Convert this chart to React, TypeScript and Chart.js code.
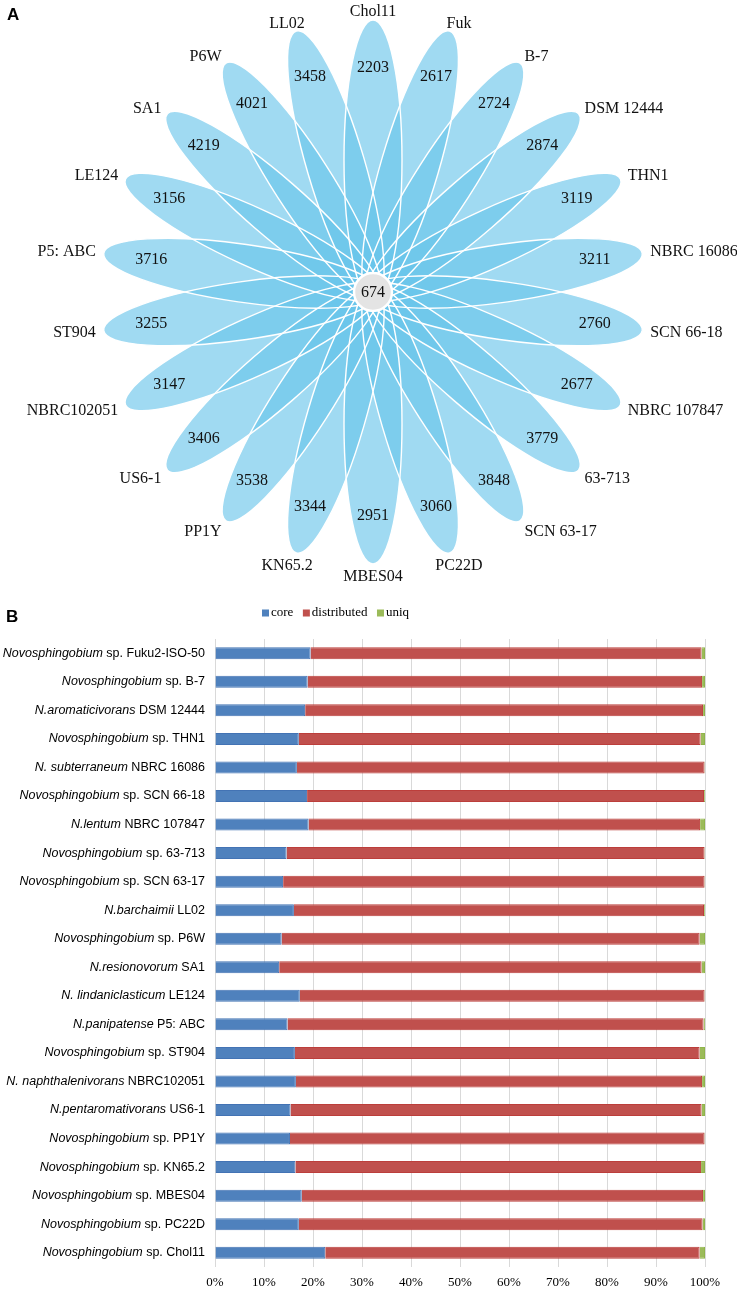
import React, { useEffect, useRef } from "react";
import { Chart, registerables } from "chart.js";

Chart.register(...registerables);

// ---------- Panel A data (flower diagram) ----------
const petalLabels = [
  "Chol11", "Fuk", "B-7", "DSM 12444", "THN1", "NBRC 16086", "SCN 66-18",
  "NBRC 107847", "63-713", "SCN 63-17", "PC22D", "MBES04", "KN65.2", "PP1Y",
  "US6-1", "NBRC102051", "ST904", "P5: ABC", "LE124", "SA1", "P6W", "LL02",
];
const petalValues = [
  2203, 2617, 2724, 2874, 3119, 3211, 2760, 2677, 3779, 3848, 3060, 2951,
  3344, 3538, 3406, 3147, 3255, 3716, 3156, 4219, 4021, 3458,
];
const coreValue = 674;

// ---------- Panel B data (stacked 100% bars) ----------
const speciesNames = [
  "Novosphingobium", "Novosphingobium", "N.aromaticivorans", "Novosphingobium",
  "N. subterraneum", "Novosphingobium", "N.lentum", "Novosphingobium",
  "Novosphingobium", "N.barchaimii", "Novosphingobium", "N.resionovorum",
  "N. lindaniclasticum", "N.panipatense", "Novosphingobium", "N. naphthalenivorans",
  "N.pentaromativorans", "Novosphingobium", "Novosphingobium", "Novosphingobium",
  "Novosphingobium", "Novosphingobium",
];
const strainNames = [
  " sp. Fuku2-ISO-50", " sp. B-7", " DSM 12444", " sp. THN1", " NBRC 16086",
  " sp. SCN 66-18", " NBRC 107847", " sp. 63-713", " sp. SCN 63-17", " LL02",
  " sp. P6W", " SA1", " LE124", " P5: ABC", " sp. ST904", " NBRC102051",
  " US6-1", " sp. PP1Y", " sp. KN65.2", " sp. MBES04", " sp. PC22D", " sp. Chol11",
];
const seriesNames = ["core", "distributed", "uniq"];
const coreShare = [
  19.5, 18.9, 18.4, 17.1, 16.7, 18.8, 19.1, 14.6, 13.9, 16.1, 13.6, 13.1,
  17.3, 14.8, 16.3, 16.5, 15.4, 15.3, 16.4, 17.7, 17.1, 22.5,
];
const distributedShare = [
  79.8, 80.5, 81.2, 82.0, 83.2, 81.0, 79.9, 85.3, 86.0, 83.7, 85.3, 86.2,
  82.6, 84.9, 82.6, 82.9, 83.9, 84.6, 82.8, 81.9, 82.4, 76.4,
];
const uniqShare = [
  0.7, 0.6, 0.4, 0.9, 0.1, 0.2, 1.0, 0.1, 0.1, 0.2, 1.1, 0.7,
  0.1, 0.3, 1.1, 0.6, 0.7, 0.1, 0.8, 0.4, 0.5, 1.1,
];
const xTickLabels = ["0%", "10%", "20%", "30%", "40%", "50%", "60%", "70%", "80%", "90%", "100%"];

const SERIF = '"Liberation Serif", "Times New Roman", serif';
const SANS = '"Liberation Sans", Arial, sans-serif';

const flowerPlugin = {
  id: "flowerPetals",
  afterDraw(chart: any) {
    const sc = chart.scales.r;
    const R = sc.drawingArea;
    const k = R / 272;
    const ctx = chart.ctx as CanvasRenderingContext2D;
    const n = chart.data.labels.length;
    const vals = chart.data.datasets[0].data;
    ctx.save();
    const centers: any[] = [];
    for (let i = 0; i < n; i++) centers.push(sc.getPointPosition(i, 132 * k));
    ctx.fillStyle = "rgba(105,196,234,0.63)";
    centers.forEach((c) => {
      ctx.beginPath();
      ctx.ellipse(c.x, c.y, 140 * k, 29 * k, c.angle, 0, Math.PI * 2);
      ctx.fill();
    });
    ctx.strokeStyle = "#ffffff";
    ctx.lineWidth = 1.4;
    centers.forEach((c) => {
      ctx.beginPath();
      ctx.ellipse(c.x, c.y, 140 * k, 29 * k, c.angle, 0, Math.PI * 2);
      ctx.stroke();
    });
    // center circle
    ctx.beginPath();
    ctx.arc(sc.xCenter, sc.yCenter, 19 * k, 0, Math.PI * 2);
    ctx.fillStyle = "#e4e4e4";
    ctx.fill();
    ctx.lineWidth = 2.5;
    ctx.strokeStyle = "#ffffff";
    ctx.stroke();

    ctx.fillStyle = "#111111";
    ctx.font = `16px ${SERIF}`;
    ctx.textAlign = "center";
    ctx.textBaseline = "middle";
    ctx.fillText(String(coreValue), sc.xCenter, sc.yCenter + 1);

    for (let i = 0; i < n; i++) {
      const p = sc.getPointPosition(i, 224 * k);
      ctx.textAlign = "center";
      ctx.fillText(String(vals[i]), p.x, p.y);
    }
    for (let i = 0; i < n; i++) {
      const p = sc.getPointPosition(i, 280 * k);
      const s = Math.cos(p.angle);
      const down = Math.sin(p.angle);
      let align: CanvasTextAlign = "center";
      if (s > 0.4) align = "left";
      else if (s < -0.4) align = "right";
      const x = p.x + (align === "center" ? s * 25 : 0);
      const y = p.y + Math.max(0, down) * 5;
      ctx.textAlign = align;
      ctx.fillText(String(chart.data.labels[i]), x, y);
    }
    ctx.restore();
  },
};

const barDecorPlugin = {
  id: "barDecor",
  afterDraw(chart: any) {
    const ctx = chart.ctx as CanvasRenderingContext2D;
    const ys = chart.scales.y;
    const right = chart.chartArea.left - 10;
    ctx.save();
    ctx.fillStyle = "#000000";
    ctx.textBaseline = "middle";
    ctx.textAlign = "right";
    for (let i = 0; i < speciesNames.length; i++) {
      const py = ys.getPixelForValue(i);
      ctx.font = `12.5px ${SANS}`;
      const reg = strainNames[i];
      const rw = ctx.measureText(reg).width;
      ctx.fillText(reg, right, py);
      ctx.font = `italic 12.5px ${SANS}`;
      ctx.fillText(speciesNames[i], right - rw, py);
    }
    // legend
    ctx.font = `13px ${SERIF}`;
    ctx.textAlign = "left";
    let x = 262;
    const ly = 23;
    chart.data.datasets.forEach((ds: any) => {
      ctx.fillStyle = ds.backgroundColor;
      ctx.fillRect(x, ly - 3.5, 7, 7);
      ctx.fillStyle = "#000000";
      ctx.fillText(ds.label, x + 9, ly);
      x += 9 + ctx.measureText(ds.label).width + 9.5;
    });
    ctx.restore();
  },
};

export default function App() {
  const flowerRef = useRef<HTMLCanvasElement | null>(null);
  const barRef = useRef<HTMLCanvasElement | null>(null);

  useEffect(() => {
    const flower = new Chart(flowerRef.current as HTMLCanvasElement, {
      type: "radar",
      data: {
        labels: petalLabels,
        datasets: [
          {
            data: petalValues,
            borderWidth: 0,
            pointRadius: 0,
            backgroundColor: "rgba(0,0,0,0)",
            borderColor: "rgba(0,0,0,0)",
          },
        ],
      },
      options: {
        responsive: false,
        animation: false,
        layout: { padding: { left: 101, right: 92, top: 20, bottom: 26 } },
        plugins: { legend: { display: false }, tooltip: { enabled: false } },
        scales: {
          r: {
            min: 0,
            max: 5000,
            ticks: { display: false },
            grid: { display: false },
            angleLines: { display: false },
            pointLabels: { display: false },
          },
        },
      } as any,
      plugins: [flowerPlugin],
    });

    const bar = new Chart(barRef.current as HTMLCanvasElement, {
      type: "bar",
      data: {
        labels: speciesNames.map((s, i) => s + strainNames[i]),
        datasets: [
          { label: seriesNames[0], data: coreShare, backgroundColor: "#4f81bd", borderColor: "#4373b4", borderWidth: 1 },
          { label: seriesNames[1], data: distributedShare, backgroundColor: "#c0504d", borderColor: "#bc3e3b", borderWidth: 1 },
          { label: seriesNames[2], data: uniqShare, backgroundColor: "#9bbb59", borderColor: "#8fb44a", borderWidth: 1 },
        ],
      },
      options: {
        indexAxis: "y",
        responsive: false,
        animation: false,
        layout: { padding: { left: 0, right: 32, top: 49, bottom: 0 } },
        datasets: { bar: { barPercentage: 0.42, categoryPercentage: 1 } },
        plugins: { legend: { display: false }, tooltip: { enabled: false } },
        scales: {
          x: {
            stacked: true,
            min: 0,
            max: 100,
            position: "bottom",
            border: { display: false },
            grid: { color: "#d9d9d9", lineWidth: 1, drawTicks: false },
            ticks: {
              stepSize: 10,
              padding: 8,
              color: "#000000",
              font: { family: SERIF, size: 13 },
              callback: (_v: any, idx: number) => xTickLabels[idx],
            },
            afterFit: (s: any) => {
              s.height = 24;
            },
          },
          y: {
            stacked: true,
            border: { display: false },
            grid: { display: false },
            ticks: { display: false },
            afterFit: (s: any) => {
              s.width = 215;
            },
          },
        },
      } as any,
      plugins: [barDecorPlugin],
    });

    return () => {
      flower.destroy();
      bar.destroy();
    };
  }, []);

  const panelLabel: React.CSSProperties = {
    position: "absolute",
    fontFamily: SANS,
    fontWeight: "bold",
    fontSize: "17px",
    lineHeight: "17px",
    color: "#000",
  };

  return (
    <div style={{ position: "absolute", left: 0, top: 0, width: 737, height: 1291, background: "#fff", overflow: "hidden" }}>
      <canvas ref={flowerRef} width={737} height={590} style={{ position: "absolute", left: 0, top: 0, width: 737, height: 590 }} />
      <canvas ref={barRef} width={737} height={701} style={{ position: "absolute", left: 0, top: 590, width: 737, height: 701 }} />
      <div style={{ ...panelLabel, left: 7, top: 6 }}>A</div>
      <div style={{ ...panelLabel, left: 6, top: 608 }}>B</div>
    </div>
  );
}
